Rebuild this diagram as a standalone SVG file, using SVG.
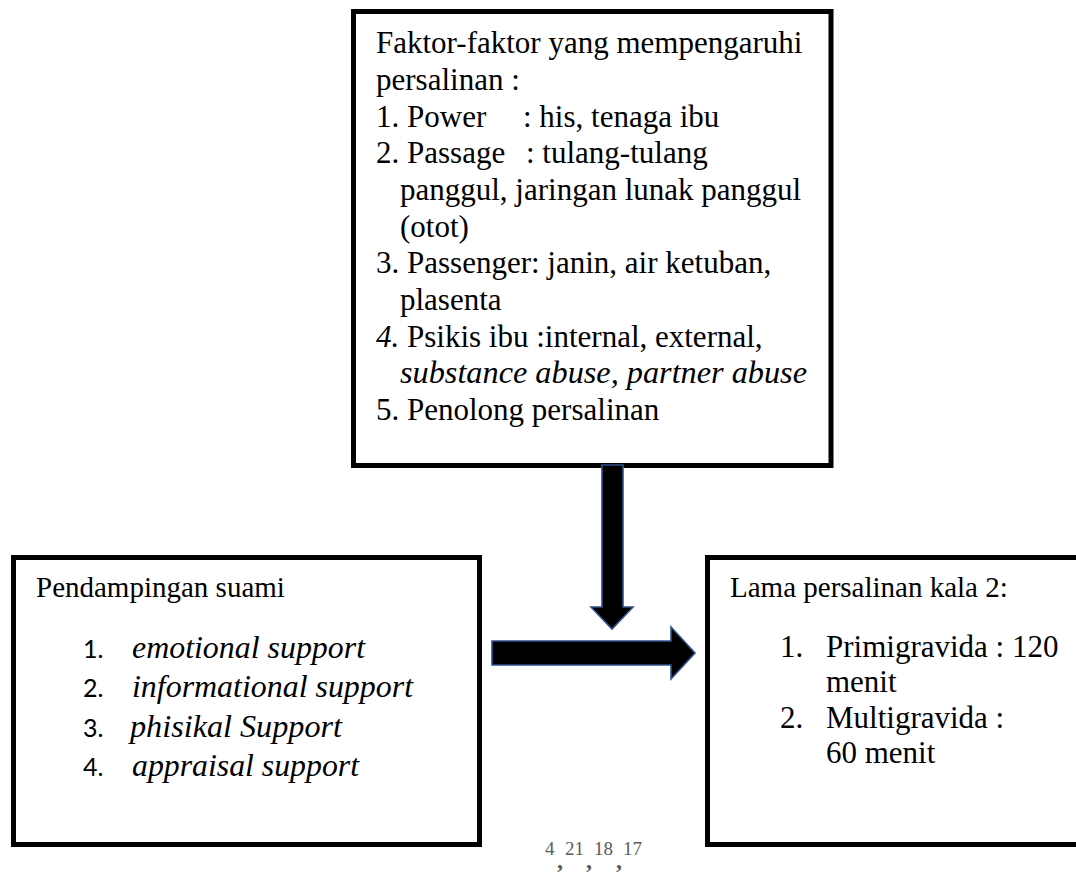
<svg xmlns="http://www.w3.org/2000/svg" width="1076" height="872" viewBox="0 0 1076 872">
<style>
.box{fill:#fff;stroke:#000;stroke-width:5}
.t{font-family:"Liberation Serif","Times New Roman",serif;fill:#000}
.big{font-size:31px}
.mid{font-size:29px}
.it{font-style:italic}
.num{font-family:Lato,"Noto Sans","Liberation Sans",sans-serif;font-size:25px;fill:#000}
.arrow{fill:#000;stroke:#2F528F;stroke-width:1.6;stroke-linejoin:miter}
.ref{font-family:"Liberation Serif","Times New Roman",serif;fill:#5a5a5a}
</style>
<rect x="0" y="0" width="1076" height="872" fill="#fff"/>
<g id="node-faktor">
<rect class="box" x="353.5" y="11.5" width="477.5" height="454"/>
<text class="t big" x="376" y="53">Faktor-faktor yang mempengaruhi</text>
<text class="t big" x="376" y="90">persalinan :</text>
<text class="t big" y="127"><tspan x="376">1. Power</tspan><tspan x="523">: his, tenaga ibu</tspan></text>
<text class="t big" y="163"><tspan x="376">2. Passage</tspan><tspan x="526">: tulang-tulang</tspan></text>
<text class="t big" x="400" y="200">panggul, jaringan lunak panggul</text>
<text class="t big" x="400" y="237">(otot)</text>
<text class="t big" x="376" y="273">3. Passenger: janin, air ketuban,</text>
<text class="t big" x="400" y="310">plasenta</text>
<text class="t big" x="376" y="347"><tspan class="it">4.</tspan> Psikis ibu :internal, external,</text>
<text class="t big it" x="400" y="383" textLength="407" lengthAdjust="spacingAndGlyphs">substance abuse, partner abuse</text>
<text class="t big" x="376" y="420">5. Penolong persalinan</text>
</g>
<g id="node-pendampingan">
<rect class="box" x="13.5" y="557.5" width="466" height="287"/>
<text class="t mid" x="36" y="597">Pendampingan suami</text>
<text class="num" x="83" y="658">1.</text>
<text class="t big it" x="132" y="658" textLength="233" lengthAdjust="spacingAndGlyphs">emotional support</text>
<text class="num" x="83" y="697">2.</text>
<text class="t big it" x="132" y="697" textLength="281" lengthAdjust="spacingAndGlyphs">informational support</text>
<text class="num" x="83" y="737">3.</text>
<text class="t big it" x="130" y="737" textLength="212" lengthAdjust="spacingAndGlyphs">phisikal Support</text>
<text class="num" x="83" y="776">4.</text>
<text class="t big it" x="132" y="776" textLength="227" lengthAdjust="spacingAndGlyphs">appraisal support</text>
</g>
<g id="node-lama">
<rect class="box" x="707.5" y="557.5" width="375" height="287"/>
<text class="t mid" x="730" y="597">Lama persalinan kala 2:</text>
<text class="t big" x="780" y="657">1.</text>
<text class="t big" x="826" y="657">Primigravida : 120</text>
<text class="t big" x="826" y="692">menit</text>
<text class="t big" x="780" y="728">2.</text>
<text class="t big" x="826" y="728">Multigravida :</text>
<text class="t big" x="826" y="763">60 menit</text>
</g>
<g id="connectors">
<polygon class="arrow" points="602,465 623,465 623,607 633,607 612,629 591,607 602,607"/>
<polygon class="arrow" points="492,641 671,641 671,627 695,653 671,679 671,665 492,665"/>
</g>
<g id="citation">
<text class="ref" font-size="19"><tspan x="545" y="855">4</tspan><tspan x="565" y="855">21</tspan><tspan x="594" y="855">18</tspan><tspan x="623" y="855">17</tspan></text>
<text class="ref" font-size="24" font-weight="bold"><tspan x="557" y="868">,</tspan><tspan x="586" y="868">,</tspan><tspan x="616" y="868">,</tspan></text>
</g>
</svg>
